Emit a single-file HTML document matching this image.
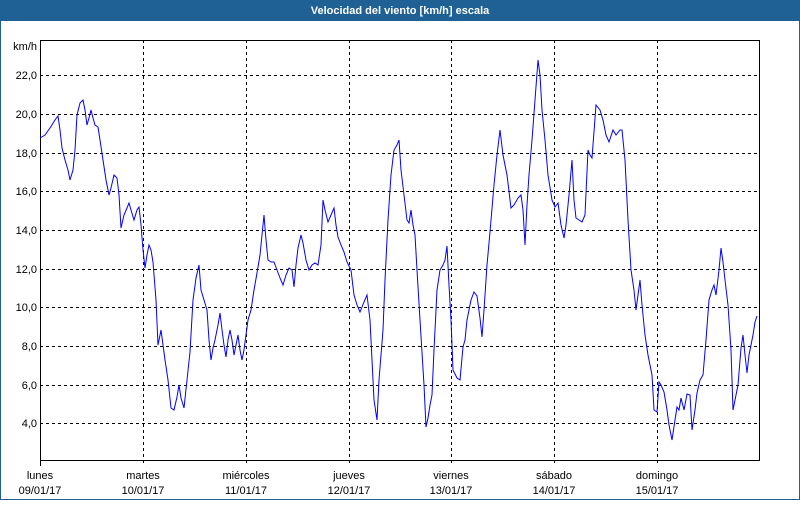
<!DOCTYPE html>
<html><head><meta charset="utf-8"><style>
html,body{margin:0;padding:0;background:#fff;}
body{width:800px;height:500px;overflow:hidden;font-family:"Liberation Sans","DejaVu Sans",sans-serif;}
</style></head><body>
<svg width="800" height="500" xmlns="http://www.w3.org/2000/svg" font-family="Liberation Sans, sans-serif" font-size="11">
<rect x="0" y="0" width="800" height="500" fill="#fff"/>
<rect x="0" y="0" width="800" height="21" fill="#1f6095"/>
<rect x="0.5" y="0.5" width="799" height="499" fill="none" stroke="#1f6095"/>
<text x="400" y="14" fill="#fff" font-weight="bold" text-anchor="middle">Velocidad del viento [km/h] escala</text>
<g stroke="#000" stroke-dasharray="3,3" stroke-width="1">
<line x1="40" y1="75.5" x2="760" y2="75.5"/><line x1="40" y1="114.5" x2="760" y2="114.5"/>
<line x1="40" y1="153.5" x2="760" y2="153.5"/><line x1="40" y1="191.5" x2="760" y2="191.5"/>
<line x1="40" y1="230.5" x2="760" y2="230.5"/><line x1="40" y1="269.5" x2="760" y2="269.5"/>
<line x1="40" y1="307.5" x2="760" y2="307.5"/><line x1="40" y1="346.5" x2="760" y2="346.5"/>
<line x1="40" y1="385.5" x2="760" y2="385.5"/><line x1="40" y1="423.5" x2="760" y2="423.5"/>
<line x1="143.5" y1="40" x2="143.5" y2="466"/><line x1="246.5" y1="40" x2="246.5" y2="466"/>
<line x1="349.5" y1="40" x2="349.5" y2="466"/><line x1="451.5" y1="40" x2="451.5" y2="466"/>
<line x1="554.5" y1="40" x2="554.5" y2="466"/><line x1="657.5" y1="40" x2="657.5" y2="466"/>
</g>
<rect x="40.5" y="40.5" width="719" height="420" fill="none" stroke="#000"/>
<line x1="40.5" y1="460" x2="40.5" y2="466" stroke="#000"/>
<g fill="#000" text-anchor="end">
<text x="37" y="50">km/h</text>
<text x="37" y="79">22,0</text><text x="37" y="118">20,0</text><text x="37" y="157">18,0</text>
<text x="37" y="195">16,0</text><text x="37" y="234">14,0</text><text x="37" y="273">12,0</text>
<text x="37" y="311">10,0</text><text x="37" y="350">8,0</text><text x="37" y="389">6,0</text>
<text x="37" y="427">4,0</text>
</g>
<g fill="#000" text-anchor="middle">
<text x="40" y="479">lunes</text><text x="40" y="494">09/01/17</text>
<text x="143" y="479">martes</text><text x="143" y="494">10/01/17</text>
<text x="246" y="479">miércoles</text><text x="246" y="494">11/01/17</text>
<text x="349" y="479">jueves</text><text x="349" y="494">12/01/17</text>
<text x="451" y="479">viernes</text><text x="451" y="494">13/01/17</text>
<text x="554" y="479">sábado</text><text x="554" y="494">14/01/17</text>
<text x="657" y="479">domingo</text><text x="657" y="494">15/01/17</text>
</g>
<polyline fill="none" stroke="#0000ff" stroke-width="1" points="40,138 45,135 50,128 55,120 58,116 60,130 62,148 65,160 68,170 70,180 73,170 75,150 77,115 80,103 83,100 85,110 87,125 89,118 91,110 93,118 95,125 98,127 100,140 103,160 106,180 109,195 111,188 114,175 117,178 119,195 121,228 124,215 127,208 129,203 131,210 134,220 137,210 139,207 141,225 143,250 145,268 147,255 149,245 151,250 153,262 156,300 158,345 161,330 163,345 165,360 168,380 171,408 174,410 177,397 179,385 181,398 184,408 187,380 190,352 193,300 196,278 199,265 201,290 204,300 207,310 209,340 211,360 213,348 215,340 218,325 220,313 222,330 224,345 226,357 228,340 230,330 232,340 234,355 236,345 238,335 240,350 242,360 244,350 246,335 248,320 251,310 254,290 257,273 260,255 262,235 264,215 266,240 268,260 271,262 274,262 277,270 280,278 283,285 286,275 289,268 292,270 294,287 296,265 298,248 301,235 303,243 306,260 309,270 312,265 315,263 318,265 321,245 323,200 325,210 328,222 331,215 334,208 336,225 338,237 341,245 344,252 347,262 351,270 354,295 357,305 360,312 364,302 367,295 370,320 372,360 374,400 377,420 379,380 383,330 385,280 388,220 391,175 394,150 397,145 399,140 401,170 404,195 407,220 409,223 411,210 413,225 415,235 417,270 420,320 424,385 426,427 428,418 430,405 432,395 434,350 437,290 440,270 443,265 445,260 447,246 449,285 451,320 453,370 457,378 460,380 463,347 465,340 467,320 471,300 474,292 477,296 480,318 482,337 484,310 487,265 490,232 494,185 497,155 500,130 503,155 507,175 511,208 514,205 518,198 521,195 523,210 525,245 527,205 529,175 532,140 535,100 538,60 540,75 542,110 545,140 548,175 552,200 555,207 558,203 561,225 564,238 566,225 569,195 572,160 574,200 576,218 579,220 582,222 585,215 588,150 590,155 592,158 596,105 600,110 603,120 606,135 609,142 613,130 616,135 620,130 622,130 625,160 628,220 631,270 634,290 636,310 638,295 640,280 642,305 645,335 648,355 652,375 654,410 657,412 659,382 661,385 664,392 667,410 669,425 672,440 675,420 677,407 679,410 681,398 684,410 687,394 690,395 692,430 695,410 697,393 700,380 703,375 706,340 709,300 712,290 714,285 716,295 719,270 721,248 723,262 725,280 728,305 731,350 733,410 736,395 738,385 741,348 743,335 745,355 747,373 749,355 751,345 753,335 755,322 757,316"/>
</svg>
</body></html>
